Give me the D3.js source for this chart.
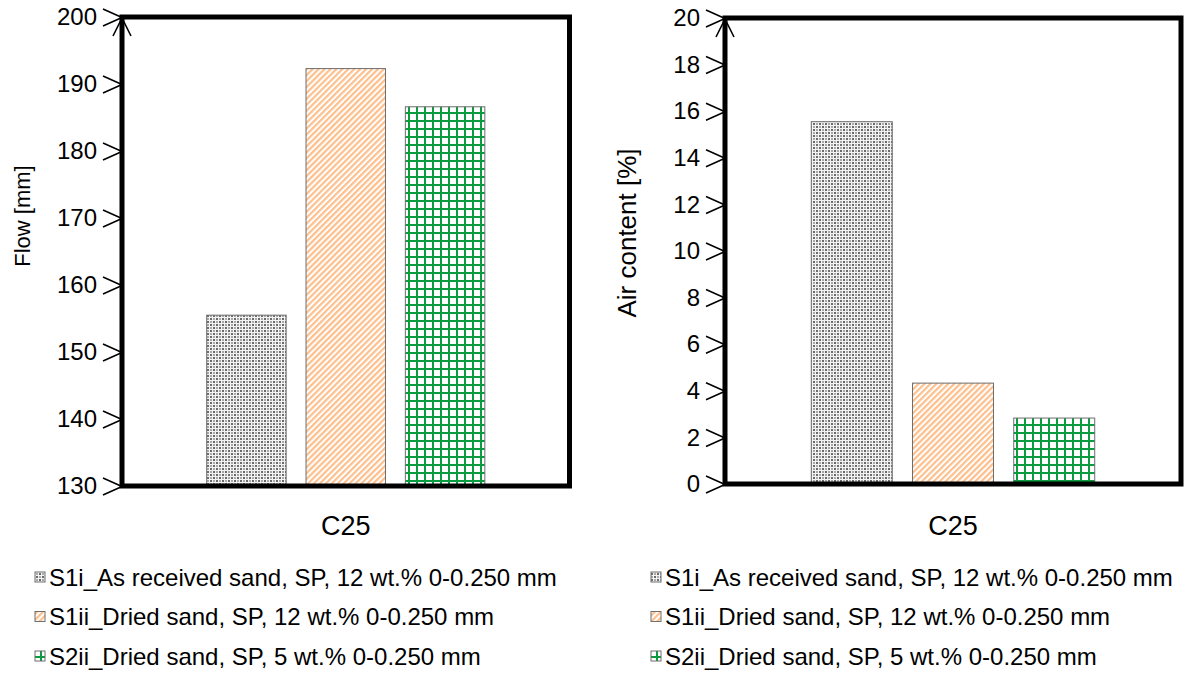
<!DOCTYPE html>
<html>
<head>
<meta charset="utf-8">
<script src="https://cdn.jsdelivr.net/npm/d3@7"></script>
<style>
  html, body { margin: 0; padding: 0; background: #fff; }
  svg { display: block; font-family: "Liberation Sans", Arial, sans-serif; }
</style>
</head>
<body>
<svg id="chart" width="1184" height="676"></svg>
<script>
// ---- data ----
const category = "C25";
const seriesNames = [
  "S1i_As received sand, SP, 12 wt.% 0-0.250 mm",
  "S1ii_Dried sand, SP, 12 wt.% 0-0.250 mm",
  "S2ii_Dried sand, SP, 5 wt.% 0-0.250 mm"
];
const seriesKeys = ["S1i", "S1ii", "S2ii"];
const flowValues = [155.5, 192.3, 186.6];
const airValues = [15.55, 4.33, 2.83];
const flowTicks = [130, 140, 150, 160, 170, 180, 190, 200];
const airTicks = [0, 2, 4, 6, 8, 10, 12, 14, 16, 18, 20];

const svg = d3.select("#chart");
const defs = svg.append("defs");

// gray dotted/checkered pattern
const p1 = defs.append("pattern").attr("id", "pat0").attr("patternUnits", "userSpaceOnUse")
  .attr("width", 6).attr("height", 6);
p1.append("rect").attr("width", 6).attr("height", 6).attr("fill", "#f4f4f4");
p1.append("rect").attr("x", 0).attr("y", 0).attr("width", 2).attr("height", 2).attr("fill", "#6a6a6a");
p1.append("rect").attr("x", 3).attr("y", 3).attr("width", 2).attr("height", 2).attr("fill", "#6a6a6a");
p1.append("rect").attr("x", 3).attr("y", 0).attr("width", 2).attr("height", 2).attr("fill", "#a8a8a8");
p1.append("rect").attr("x", 0).attr("y", 3).attr("width", 2).attr("height", 2).attr("fill", "#a8a8a8");

// orange diagonal stripes
const p2 = defs.append("pattern").attr("id", "pat1").attr("patternUnits", "userSpaceOnUse")
  .attr("width", 4.2).attr("height", 4.2).attr("patternTransform", "rotate(45)");
p2.append("rect").attr("width", 4.2).attr("height", 4.2).attr("fill", "#ffffff");
p2.append("rect").attr("x", 0).attr("y", 0).attr("width", 2.2).attr("height", 4.2).attr("fill", "#fdbf8c");

// green grid
const p3 = defs.append("pattern").attr("id", "pat2").attr("patternUnits", "userSpaceOnUse")
  .attr("width", 8).attr("height", 8);
p3.append("rect").attr("width", 8).attr("height", 8).attr("fill", "#ffffff");
p3.append("rect").attr("x", 0).attr("y", 0).attr("width", 2).attr("height", 8).attr("fill", "#0a9c3e");
p3.append("rect").attr("x", 0).attr("y", 0).attr("width", 8).attr("height", 2).attr("fill", "#0a9c3e");

const fills = ["url(#pat0)", "url(#pat1)", "url(#pat2)"];

function panel(cfg) {
  const g = svg.append("g");
  const y = d3.scaleLinear().domain(cfg.domain).range([cfg.bottom, cfg.top]);
  const c = (cfg.left + cfg.right) / 2;
  const s = (cfg.right - cfg.left) * 0.222;
  const x = d3.scaleBand().domain(seriesKeys).range([c - 1.5 * s, c + 1.5 * s])
    .paddingInner(0.2).paddingOuter(0.1);

  // bars
  g.selectAll("rect.bar").data(cfg.values).enter().append("rect")
    .attr("class", "bar")
    .attr("x", (d, i) => x(seriesKeys[i]))
    .attr("width", x.bandwidth())
    .attr("y", d => y(d))
    .attr("height", d => y(cfg.domain[0]) - y(d))
    .attr("fill", (d, i) => fills[i])
    .attr("stroke", "#6e6e6e").attr("stroke-width", 1);

  // frame
  g.append("rect")
    .attr("x", cfg.left).attr("y", cfg.top)
    .attr("width", cfg.right - cfg.left).attr("height", cfg.bottom - cfg.top)
    .attr("fill", "none").attr("stroke", "#000").attr("stroke-width", 5);

  // axis
  const ax = g.append("g").attr("transform", `translate(${cfg.left},0)`)
    .call(d3.axisLeft(y).tickValues(cfg.ticks).tickSize(0).tickPadding(25).tickFormat(d3.format("d")));
  ax.select(".domain").remove();
  ax.selectAll(".tick text").attr("font-size", 24).attr("fill", "#000")
    .attr("font-family", "'Liberation Sans', Arial, sans-serif");
  ax.selectAll(".tick").append("path")
    .attr("d", "M-19,-8.5L0,0L-19,8.5")
    .attr("fill", "none").attr("stroke", "#000").attr("stroke-width", 1.6);

  // arrow at top of y axis
  g.append("path")
    .attr("d", `M${cfg.left - 9},${cfg.top + 19}L${cfg.left},${cfg.top + 1}L${cfg.left + 9},${cfg.top + 19}`)
    .attr("fill", "none").attr("stroke", "#000").attr("stroke-width", 1.6);

  // category label
  g.append("text").attr("x", c).attr("y", 535).attr("text-anchor", "middle")
    .attr("font-size", 27).text(category);

  // y label
  g.append("text")
    .attr("transform", `translate(${cfg.ylabX},${cfg.ylabY}) rotate(-90)`)
    .attr("text-anchor", "middle").attr("font-size", cfg.ylabSize).text(cfg.ylabel);

  // legend
  const lg = g.append("g");
  seriesNames.forEach((name, i) => {
    const yy = 577 + i * 39.5;
    lg.append("rect").attr("x", cfg.legX).attr("y", yy - 5).attr("width", 10).attr("height", 10)
      .attr("fill", fills[i]).attr("stroke", "#6e6e6e").attr("stroke-width", 1);
    lg.append("text").attr("x", cfg.legX + 14).attr("y", yy + 8.5).attr("font-size", 24).text(name);
  });
}

panel({
  left: 122, right: 569.5, top: 17, bottom: 486,
  domain: [130, 200], ticks: flowTicks, values: flowValues,
  ylabel: "Flow [mm]", ylabX: 30, ylabY: 216, ylabSize: 22, legX: 35
});
panel({
  left: 725, right: 1181, top: 18, bottom: 484,
  domain: [0, 20], ticks: airTicks, values: airValues,
  ylabel: "Air content [%]", ylabX: 636, ylabY: 233, ylabSize: 26, legX: 651
});
</script>
</body>
</html>
